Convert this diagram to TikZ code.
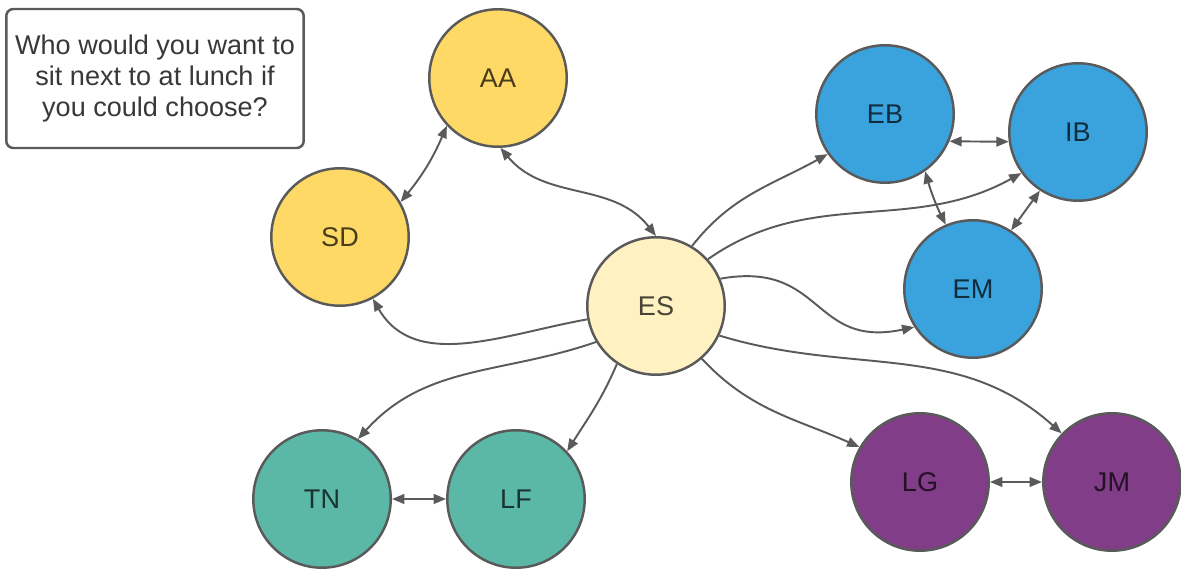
\documentclass[tikz,border=0pt]{standalone}
\usepackage{fontspec}
\setmainfont{Liberation Sans}
\usepackage{tikz}
\usetikzlibrary{shapes,arrows,arrows.meta}

\definecolor{colGold}{HTML}{FFD966}
\definecolor{colCream}{HTML}{FFF1C2}
\definecolor{colBlue}{HTML}{3AA2DC}
\definecolor{colTeal}{HTML}{5BB8A7}
\definecolor{colPurple}{HTML}{813D87}
\definecolor{lineGray}{HTML}{5A5A5A}

\begin{document}
\begin{tikzpicture}[x=0.02cm,y=-0.02cm]
			\useasboundingbox (0,0) rectangle (1181,570);
			\begin{scope}
				[
					stylePerson/.style={
						circle, draw=lineGray, line width=1.4pt,
						fill=#1, text=#1!28!black,
						minimum size=2.75cm, inner sep=0pt,
						font=\fontsize{15.4}{18}\selectfont
						},
					styleQuestion/.style={draw=lineGray, line width=1.4pt,
						rounded corners=4pt, minimum width=5.95cm, minimum height=2.78cm,
						align=center, text=black!78,
						font=\fontsize{15.4}{17.9}\selectfont},
				]
				\node(question)[styleQuestion] at (155,78.5) {Who would you want to\\sit next to at lunch if\\you could choose?};
				\node(AA)[stylePerson=colGold] at (498,78) {AA};
				\node(SD)[stylePerson=colGold] at (340,237) {SD};
				\node(ES)[stylePerson=colCream] at (656,306) {ES};

				\node(EB)[stylePerson=colBlue] at (885,114) {EB};
				\node(IB)[stylePerson=colBlue] at (1078,132) {IB};
				\node(EM)[stylePerson=colBlue] at (973,289) {EM};

				\node(TN)[stylePerson=colTeal] at (322,499) {TN};
				\node(LF)[stylePerson=colTeal] at (516,499) {LF};
				\node(LG)[stylePerson=colPurple] at (920,482) {LG};
				\node(JM)[stylePerson=colPurple] at (1112,482) {JM};
			\end{scope}
			
			\begin{scope}
				[ choice/.style = {->},
					mutual/.style = {<->},
					every edge/.style = {draw=lineGray, line width=1.1pt},
					>={Triangle[length=7pt,width=5.5pt]}]
				\path 
				(SD.30) edge[mutual, bend right=8]          (AA.223)
				(AA.-88) edge[mutual, out=-50, in=128]      (ES.90)
				(ES.191) edge[choice, out=190, in=-60]      (SD.-62)
				(ES.211) edge[choice, out=199, in=48]       (TN.59)
				(ES.236) edge[choice, out=247, in=58]       (LF.43)

				(ES.59) edge[choice, out=52, in=209]        (EB.215)
				(ES.42) edge[choice, out=35, in=209]        (IB.216)
				(ES.23) edge[choice, out=10, in=192, looseness=1.35] (EM.213)
				(ES.-25) edge[choice, out=-17, in=138]      (JM.136)
				(ES.-49) edge[choice, out=-47, in=156]      (LG.150)

				(EB.-23) edge[mutual]                       (IB.188)
				(EB.-55) edge[mutual, bend right=5]         (EM.113)
				(IB.237) edge[mutual]                       (EM.57)
				(TN) edge[mutual]                           (LF)
				(LG) edge[mutual]                           (JM);

			\end{scope}
		\end{tikzpicture}
\end{document}
